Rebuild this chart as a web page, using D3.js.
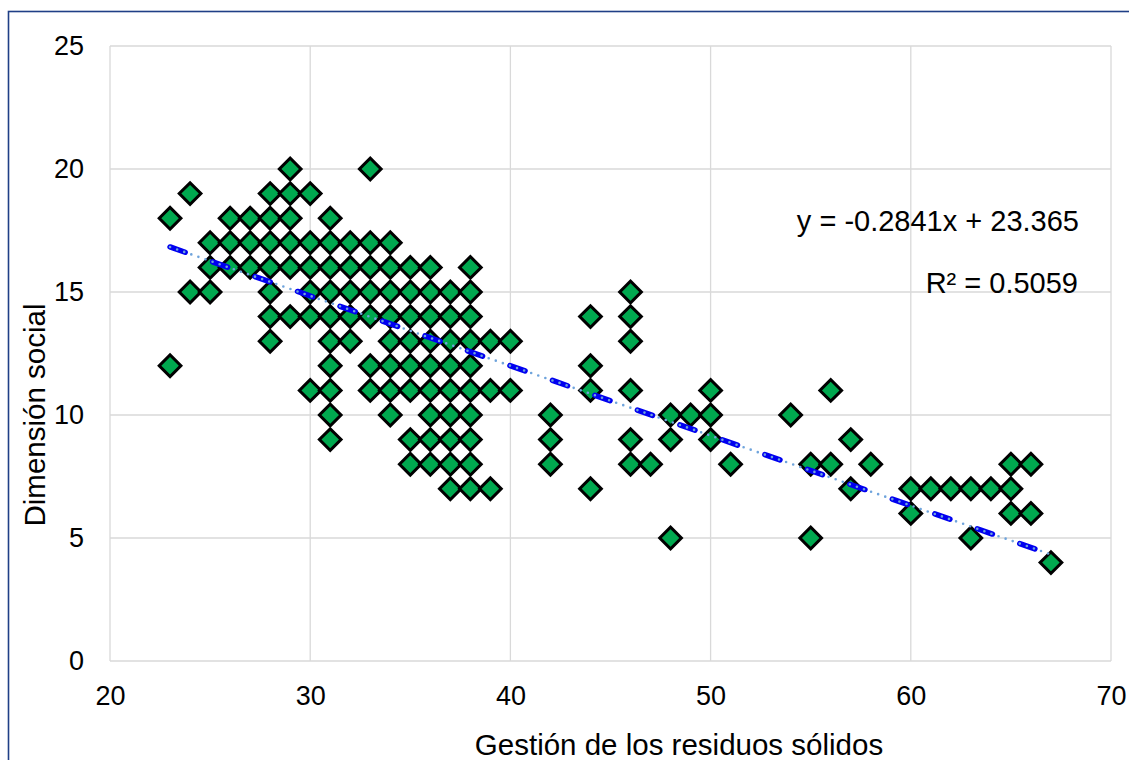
<!DOCTYPE html>
<html>
<head>
<meta charset="utf-8">
<script src="https://cdn.jsdelivr.net/npm/d3@7"></script>
<style>
  body { margin: 0; background: #fff; }
  svg { display: block; font-family: Arial, "Liberation Sans", sans-serif; }
</style>
</head>
<body>
<svg id="chart" width="1129" height="760"></svg>
<script>
// Scatter of "Gestión de los residuos sólidos" against "Dimensión social",
// with a linear trendline and its equation.

// one entry per point, grouped by x value (each line = one column of diamonds)
let gestion = [
  23, 23,
  24, 24,
  25, 25, 25,
  26, 26, 26,
  27, 27, 27,
  28, 28, 28, 28, 28, 28, 28,
  29, 29, 29, 29, 29, 29,
  30, 30, 30, 30, 30, 30,
  31, 31, 31, 31, 31, 31, 31, 31, 31, 31,
  32, 32, 32, 32, 32,
  33, 33, 33, 33, 33, 33, 33,
  34, 34, 34, 34, 34, 34, 34, 34,
  35, 35, 35, 35, 35, 35, 35, 35,
  36, 36, 36, 36, 36, 36, 36, 36, 36,
  37, 37, 37, 37, 37, 37, 37, 37, 37,
  38, 38, 38, 38, 38, 38, 38, 38, 38, 38,
  39, 39, 39,
  40, 40,
  42, 42, 42,
  44, 44, 44, 44,
  46, 46, 46, 46, 46, 46,
  47,
  48, 48, 48,
  49,
  50, 50, 50,
  51,
  54,
  55, 55,
  56, 56,
  57, 57,
  58,
  60, 60,
  61,
  62,
  63, 63,
  64,
  65, 65, 65,
  66, 66,
  67
];
let social = [
  18, 12,
  19, 15,
  17, 16, 15,
  18, 17, 16,
  18, 17, 16,
  19, 18, 17, 16, 15, 14, 13,
  20, 19, 18, 17, 16, 14,
  19, 17, 16, 15, 14, 11,
  18, 17, 16, 15, 14, 13, 12, 11, 10, 9,
  17, 16, 15, 14, 13,
  20, 17, 16, 15, 14, 12, 11,
  17, 16, 15, 14, 13, 12, 11, 10,
  16, 15, 14, 13, 12, 11, 9, 8,
  16, 15, 14, 13, 12, 11, 10, 9, 8,
  15, 14, 13, 12, 11, 10, 9, 8, 7,
  16, 15, 14, 13, 12, 11, 10, 9, 8, 7,
  13, 11, 7,
  13, 11,
  10, 9, 8,
  14, 12, 11, 7,
  15, 14, 13, 11, 9, 8,
  8,
  10, 9, 5,
  10,
  11, 10, 9,
  8,
  10,
  8, 5,
  11, 8,
  9, 7,
  8,
  7, 6,
  7,
  7,
  7, 5,
  7,
  8, 7, 6,
  8, 6,
  4
];

let xTicks = [20, 30, 40, 50, 60, 70];
let yTicks = [0, 5, 10, 15, 20, 25];

// trendline reported by the chart
let slope = -0.2841;
let intercept = 23.365;
let rSquared = 0.5059;

let svg = d3.select("#chart");

// outer chart frame (runs off the right/bottom edge)
svg.append("rect")
  .attr("x", 8.5).attr("y", 11.5)
  .attr("width", 1140).attr("height", 780)
  .attr("fill", "#fff")
  .attr("stroke", "#1f3f86")
  .attr("stroke-width", 1.6);

let x = d3.scaleLinear().domain([20, 70]).range([110, 1111]);
let y = d3.scaleLinear().domain([0, 25]).range([661, 46]);

// gridlines
let grid = svg.append("g").attr("stroke", "#d9d9d9").attr("stroke-width", 1.3);
grid.selectAll("line.h")
  .data(yTicks)
  .enter().append("line")
    .attr("class", "h")
    .attr("x1", x(20)).attr("x2", x(70))
    .attr("y1", function(d) { return y(d); })
    .attr("y2", function(d) { return y(d); });
grid.selectAll("line.v")
  .data(xTicks)
  .enter().append("line")
    .attr("class", "v")
    .attr("y1", y(0)).attr("y2", y(25))
    .attr("x1", function(d) { return x(d); })
    .attr("x2", function(d) { return x(d); });

// axes: labels only, the grid does the rest
let xAxis = svg.append("g")
  .attr("transform", "translate(0," + y(0) + ")")
  .call(d3.axisBottom(x).tickValues(xTicks).tickSize(0).tickPadding(25));
let yAxis = svg.append("g")
  .attr("transform", "translate(" + x(20) + ",0)")
  .call(d3.axisLeft(y).tickValues(yTicks).tickSize(0).tickPadding(26));

[xAxis, yAxis].forEach(function(a) {
  a.select(".domain").remove();
  a.selectAll("text")
    .attr("fill", "#000")
    .style("font-size", "27px")
    .style("font-family", "Arial, 'Liberation Sans', sans-serif");
});

// diamonds
let diamond = d3.symbol().type(d3.symbolSquare).size(235);
svg.append("g")
  .selectAll("path")
  .data(gestion)
  .enter().append("path")
    .attr("d", diamond)
    .attr("transform", function(d, i) {
      return "translate(" + x(d) + "," + y(social[i]) + ") rotate(45)";
    })
    .attr("fill", "#00a84f")
    .attr("stroke", "#000")
    .attr("stroke-width", 3);

// trendline: thick blue dashes with light blue dots on top
let xMin = d3.min(gestion), xMax = d3.max(gestion);
let trend = [[xMin, slope * xMin + intercept], [xMax, slope * xMax + intercept]];
let line = d3.line()
  .x(function(d) { return x(d[0]); })
  .y(function(d) { return y(d[1]); });

svg.append("path")
  .attr("d", line(trend))
  .attr("fill", "none")
  .attr("stroke", "#0000f0")
  .attr("stroke-width", 5.5)
  .attr("stroke-linecap", "round")
  .attr("stroke-dasharray", "16 29");
svg.append("path")
  .attr("d", line(trend))
  .attr("fill", "none")
  .attr("stroke", "#6fa4dc")
  .attr("stroke-width", 2.6)
  .attr("stroke-linecap", "round")
  .attr("stroke-dasharray", "0 7.5");

// trendline equation
svg.append("text")
  .attr("x", 1079).attr("y", 231)
  .attr("text-anchor", "end")
  .style("font-size", "29px")
  .text("y = " + slope + "x + " + intercept);
svg.append("text")
  .attr("x", 1078).attr("y", 293)
  .attr("text-anchor", "end")
  .style("font-size", "29px")
  .text("R² = " + rSquared);

// axis titles
svg.append("text")
  .attr("x", 679).attr("y", 755)
  .attr("text-anchor", "middle")
  .style("font-size", "29.5px")
  .text("Gestión de los residuos sólidos");
svg.append("text")
  .attr("transform", "translate(45,415) rotate(-90)")
  .attr("text-anchor", "middle")
  .style("font-size", "29.5px")
  .text("Dimensión social");
</script>
</body>
</html>
